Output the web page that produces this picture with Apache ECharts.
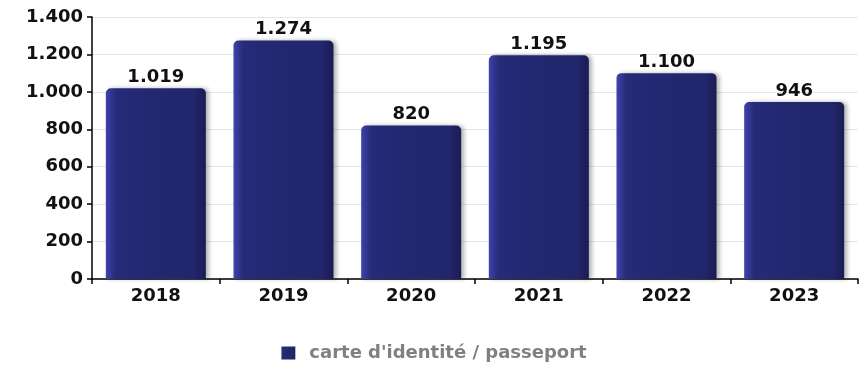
<!DOCTYPE html>
<html><head><meta charset="utf-8">
<script src="https://cdn.jsdelivr.net/npm/echarts@6/dist/echarts.min.js"></script>
<style>html,body{margin:0;padding:0;background:#fff}#c{width:868px;height:365px}</style>
</head><body><div id="c"></div>
<script>
const categories = ['2018','2019','2020','2021','2022','2023'];
const values = [1019, 1274, 820, 1195, 1100, 946];
const seriesName = "carte d'identité / passeport";
const yTicks = [0, 200, 400, 600, 800, 1000, 1200, 1400];

function fmt(v){ return String(v).replace(/\B(?=(\d{3})+(?!\d))/g, '.'); }

const chart = echarts.init(document.getElementById('c'));
const font = 'DejaVu Sans';
chart.setOption({
  animation: false,
  grid: {left: 92, right: 10, top: 17, bottom: 86},
  legend: {
    top: 339, left: 'center', itemWidth: 14, itemHeight: 13, icon: 'rect', itemGap: 10,
    textStyle: {color: '#808080', fontFamily: font, fontWeight: 'bold', fontSize: 18, padding: [0,0,0,9]}
  },
  xAxis: {
    type: 'category', data: categories,
    axisLine: {lineStyle: {color: '#000', width: 1.5}},
    axisTick: {show: true, length: 5, lineStyle: {color: '#000', width: 1.5}},
    axisLabel: {color: '#111', fontFamily: font, fontWeight: 'bold', fontSize: 18, margin: 8}
  },
  yAxis: {
    type: 'value', min: yTicks[0], max: yTicks[yTicks.length-1], interval: yTicks[1]-yTicks[0],
    axisLine: {show: true, lineStyle: {color: '#000', width: 1.5}},
    axisTick: {show: true, length: 5, lineStyle: {color: '#000', width: 1.5}},
    splitLine: {lineStyle: {color: '#e6e6e6'}},
    axisLabel: {color: '#111', fontFamily: font, fontWeight: 'bold', fontSize: 18, margin: 9, formatter: fmt}
  },
  series: [{
    name: seriesName, type: 'bar', data: values, barWidth: 100,
    itemStyle: {
      borderRadius: [5,5,0,0],
      color: new echarts.graphic.LinearGradient(0,0,1,0,[
        {offset:0, color:'#3d43ad'},
        {offset:0.1, color:'#262b78'},
        {offset:0.5, color:'#23276f'},
        {offset:0.88, color:'#22266c'},
        {offset:1, color:'#191c52'}
      ]),
      shadowColor: 'rgba(0,0,0,0.3)', shadowBlur: 4, shadowOffsetX: 3, shadowOffsetY: 0
    },
    label: {show: true, position: 'top', distance: 2, color: '#111', fontFamily: font, fontWeight: 'bold', fontSize: 18, formatter: p => fmt(p.value)}
  }]
});
</script></body></html>
